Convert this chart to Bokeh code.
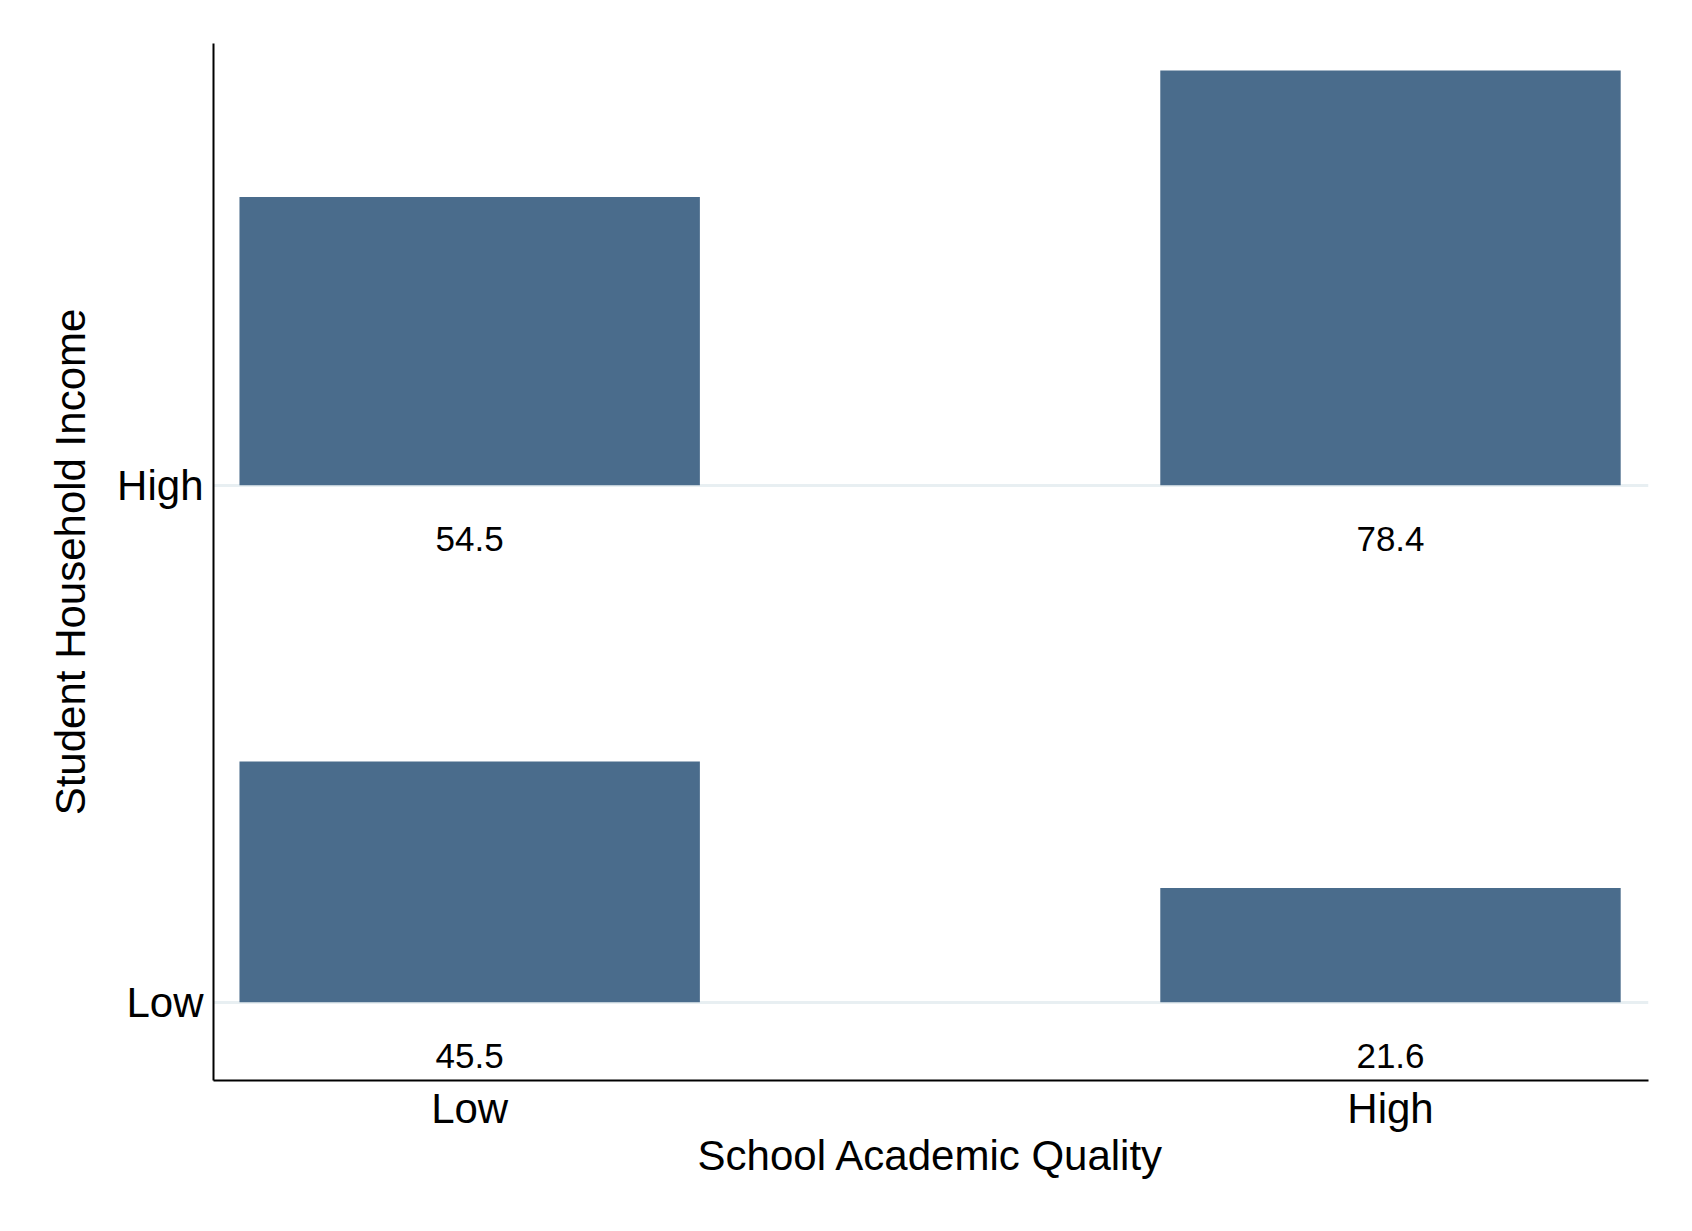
from bokeh.plotting import figure
from bokeh.models import ColumnDataSource, Range1d, FixedTicker
from bokeh.core.properties import value
from bokeh.embed import file_html
from bokeh.resources import INLINE

# ---- data ----
quality_levels = ["Low", "High"]          # x categories (School Academic Quality)
income_levels = ["Low", "High"]           # rows (Student Household Income)
pct_low_income = [45.5, 21.6]             # Low income row, by quality
pct_high_income = [54.5, 78.4]            # High income row, by quality

ROW_GAP = 97.7
FONT = "Liberation Sans"
BAR_COLOR = "#4a6c8c"

xs, bottoms, tops, labels = [], [], [], []
for r, row_vals in enumerate([pct_low_income, pct_high_income]):
    base = r * ROW_GAP
    for i, v in enumerate(row_vals):
        xs.append(i)
        bottoms.append(base)
        tops.append(base + v)
        labels.append(f"{v:.1f}")

src = ColumnDataSource(dict(x=xs, bottom=bottoms, top=tops, label=labels))

p = figure(
    frame_width=1435, frame_height=1037,
    x_range=Range1d(-0.2782, 1.2802),
    y_range=Range1d(-14.8, 181.2),
    output_backend="svg", toolbar_location=None,
    min_border_left=213, min_border_top=43, min_border_right=40, min_border_bottom=140,
)
p.outline_line_color = None
p.background_fill_color = "white"
p.border_fill_color = "white"

p.vbar(x="x", bottom="bottom", top="top", width=0.5, source=src,
       fill_color=BAR_COLOR, line_color=None)

p.text(x="x", y="bottom", text="label", source=src,
       text_font=value(FONT), text_font_size="35px", text_color="black",
       text_align="center", text_baseline="middle", y_offset=54)

# axes
p.xaxis.ticker = FixedTicker(ticks=list(range(len(quality_levels))))
p.xaxis.major_label_overrides = {i: q for i, q in enumerate(quality_levels)}
y_ticks = [r * ROW_GAP for r in range(len(income_levels))]
p.yaxis.ticker = FixedTicker(ticks=y_ticks)
p.yaxis.major_label_overrides = {t: lab for t, lab in zip(y_ticks, income_levels)}

p.xaxis.axis_label = "School Academic Quality"
p.yaxis.axis_label = "Student Household Income"

for ax in (p.xaxis, p.yaxis):
    ax.axis_line_color = "black"
    ax.axis_line_width = 2
    ax.major_tick_line_color = None
    ax.minor_tick_line_color = None
    ax.major_tick_out = 0
    ax.major_tick_in = 0
    ax.major_label_text_font = FONT
    ax.major_label_text_font_size = "42px"
    ax.major_label_text_color = "black"
    ax.axis_label_text_font = FONT
    ax.axis_label_text_font_size = "42px"
    ax.axis_label_text_font_style = "normal"
    ax.axis_label_text_color = "black"

p.xaxis.major_label_standoff = 4
p.xaxis.axis_label_standoff = -3
p.yaxis.major_label_standoff = 10
p.yaxis.axis_label_standoff = 20

p.xgrid.grid_line_color = None
p.ygrid.grid_line_color = "#e8eff2"
p.ygrid.grid_line_width = 3

open("out.html", "w").write(file_html(p, INLINE))
